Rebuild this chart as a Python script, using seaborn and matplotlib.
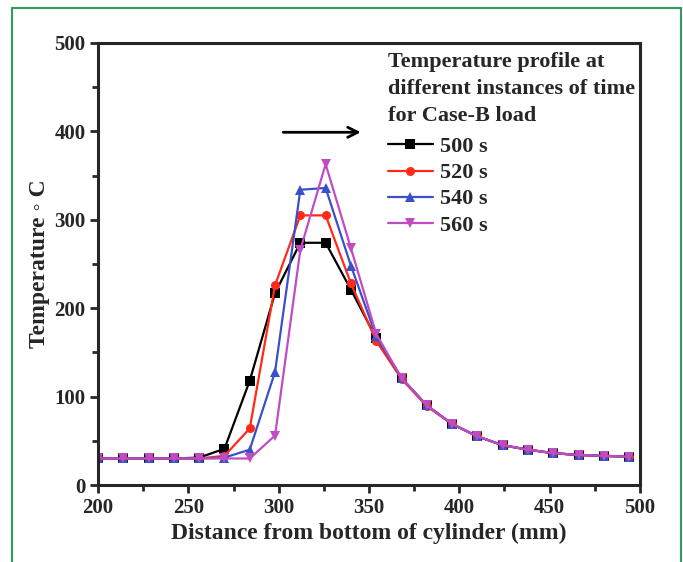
import numpy as np
import pandas as pd
import matplotlib.pyplot as plt
from matplotlib.lines import Line2D
from matplotlib.ticker import MultipleLocator
import seaborn as sns

# distance along the cylinder (mm)
distance = [200, 214, 228, 242, 256, 270, 284, 298, 312, 326, 340,
            354, 368, 382, 396, 410, 424, 438, 452, 466, 480, 494]

# temperature readings for each time instant
temp_500 = [30, 30, 30, 30, 31, 41, 118, 217, 274, 274, 221,
            166, 121, 90, 69, 55, 45, 40, 36, 34, 33, 32]
temp_520 = [30, 30, 30, 30, 30, 33, 64, 226, 305, 305, 228,
            163, 120, 89, 69, 55, 45, 40, 36, 34, 33, 32]
temp_540 = [30, 30, 30, 30, 30, 31, 40, 128, 334, 336, 248,
            168, 121, 90, 69, 55, 45, 40, 36, 34, 33, 32]
temp_560 = [30, 30, 30, 30, 30, 30, 30, 56, 266, 363, 268,
            171, 121, 90, 69, 55, 45, 40, 36, 34, 33, 32]

labels = ['500 s', '520 s', '540 s', '560 s']
colors = ['#000000', '#ff2a1a', '#3a50c8', '#c04cc4']
markers = ['s', 'o', '^', 'v']

df = pd.DataFrame({
    'distance': distance * 4,
    'temp': temp_500 + temp_520 + temp_540 + temp_560,
    'time': np.repeat(labels, len(distance)),
})

sns.set_style('ticks')
plt.rcParams['font.family'] = ['Liberation Serif', 'DejaVu Serif']
plt.rcParams['font.weight'] = 'bold'

fig = plt.figure(figsize=(6.83, 5.62), dpi=100)
ax = fig.add_axes([0.1435, 0.137, 0.7935, 0.7865])

sns.lineplot(data=df, x='distance', y='temp', hue='time', style='time',
             palette=colors, markers=markers, dashes=False, linewidth=1.6,
             markersize=6.5, markeredgewidth=0, ax=ax)

ax.set_xlim(200, 500)
ax.set_ylim(0, 500)
ax.xaxis.set_major_locator(MultipleLocator(50))
ax.xaxis.set_minor_locator(MultipleLocator(25))
ax.yaxis.set_major_locator(MultipleLocator(100))
ax.yaxis.set_minor_locator(MultipleLocator(50))
ax.tick_params(which='major', length=6, width=2, labelsize=15, pad=3)
ax.tick_params(which='minor', length=4, width=2)
for lab in ax.get_xticklabels() + ax.get_yticklabels():
    lab.set_fontweight('bold')
for s in ax.spines.values():
    s.set_linewidth(2.2)
    s.set_visible(True)

ax.set_xlabel('Distance from bottom of cylinder (mm)', fontsize=17,
              fontweight='bold', labelpad=4)
ax.set_ylabel('Temperature \u25e6 C', fontsize=17, fontweight='bold', labelpad=3)

leg = ax.legend(title='Temperature profile at\ndifferent instances of time\nfor Case-B load',
                loc='upper left', bbox_to_anchor=(0.527, 0.99), frameon=False,
                alignment='left', fontsize=16, handlelength=2.0,
                handletextpad=0.35, labelspacing=0.25, borderpad=0.2,
                borderaxespad=0.0)
leg.get_title().set_fontsize(16)
leg.get_title().set_fontweight('bold')
leg.get_title().set_linespacing(1.48)
for t in leg.get_texts():
    t.set_fontweight('bold')
# a bit more room between the title block and the entries
leg._legend_box.sep = 0.25 * 16 + 3.5

# arrow showing the direction of time
ax.annotate('', xy=(347, 399), xytext=(301, 399),
            arrowprops=dict(arrowstyle='->', lw=2, color='black',
                            mutation_scale=18))

# green page frame around the figure
frame = '#2e9e5b'
fig.add_artist(Line2D([0.018, 0.018], [0, 0.986], color=frame, lw=1.5))
fig.add_artist(Line2D([0.018, 0.997], [0.986, 0.986], color=frame, lw=1.5))
fig.add_artist(Line2D([0.997, 0.997], [0, 0.986], color=frame, lw=1.5))

fig.savefig('out.png', dpi=100)
